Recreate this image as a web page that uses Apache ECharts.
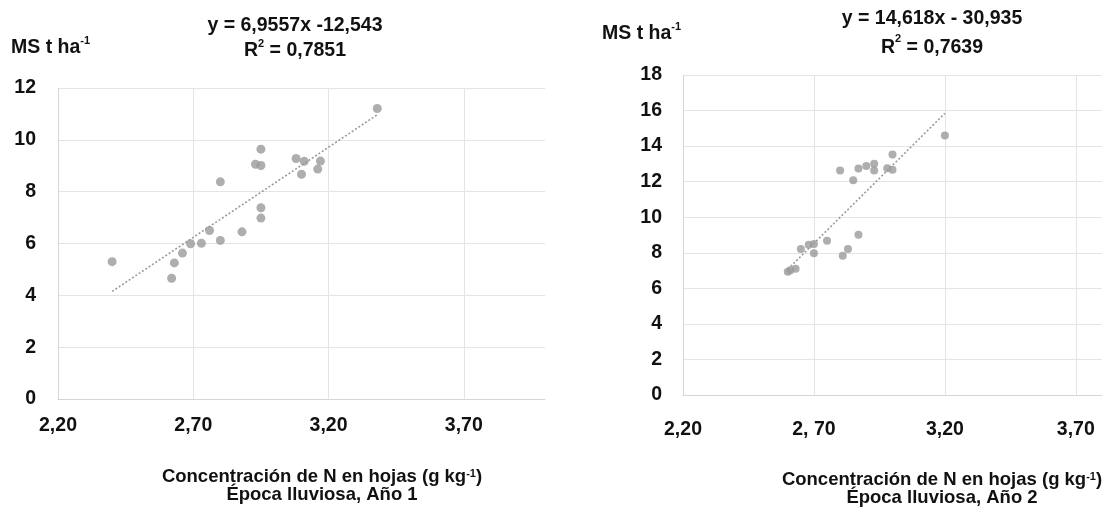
<!DOCTYPE html>
<html><head><meta charset="utf-8">
<script src="https://cdn.jsdelivr.net/npm/echarts@6/dist/echarts.min.js"></script>
<style>html,body{margin:0;padding:0;background:#fff}#c{width:1102px;height:516px}</style>
</head><body><div id="c"></div>
<script>
// ---- Data: Época lluviosa, Año 1 ----
const nLeaf1 = [2.40, 2.62, 2.63, 2.66, 2.69, 2.73, 2.76, 2.80, 2.80, 2.88, 2.93, 2.95, 2.95, 2.95, 2.95, 3.08, 3.11, 3.10, 3.17, 3.16, 3.38];
const ms1    = [5.30, 4.66, 5.25, 5.63, 5.99, 6.01, 6.50, 6.12, 8.38, 6.45, 9.06, 9.01, 9.64, 7.38, 6.98, 9.28, 9.17, 8.67, 9.18, 8.87, 11.21];
// ---- Data: Época lluviosa, Año 2 ----
const nLeaf2 = [2.60, 2.61, 2.63, 2.65, 2.68, 2.70, 2.70, 2.75, 2.80, 2.81, 2.83, 2.85, 2.87, 2.87, 2.90, 2.93, 2.93, 2.98, 3.00, 3.00, 3.20];
const ms2    = [6.93, 7.02, 7.10, 8.21, 8.45, 8.49, 7.98, 8.68, 12.63, 7.83, 8.21, 12.08, 12.74, 9.02, 12.88, 13.01, 12.63, 12.76, 13.53, 12.67, 14.59];
// ---- Linear trend coefficients [slope, intercept] ----
const trendCoef1 = [6.9557, -12.543];
const trendCoef2 = [14.618, -30.935];
// ---- Tick labels ----
const xTickValues = [2.20, 2.70, 3.20, 3.70];
const xTickLabels1 = ['2,20', '2,70', '3,20', '3,70'];
const xTickLabels2 = ['2,20', '2, 70', '3,20', '3,70'];
// ---- Texts ----
const eqText1 = ['y = 6,9557x -12,543', '0,7851'];
const eqText2 = ['y = 14,618x - 30,935', '0,7639'];
const xTitle = ['Concentración de N en hojas (g kg', '-1', ')'];
const seasonText = ['Época lluviosa, Año 1', 'Época lluviosa, Año 2'];

const FONT = 'Liberation Sans, Arial, sans-serif';
const dotColor = '#9a9a9a';

function pairs(xs, ys) { return xs.map((x, i) => [x, ys[i]]); }
function trend(xs, c) {
  const lo = Math.min(...xs), hi = Math.max(...xs);
  return [[lo, c[0] * lo + c[1]], [hi, c[0] * hi + c[1]]];
}
function xFmt(labels) {
  return function (v) {
    for (let i = 0; i < xTickValues.length; i++) if (Math.abs(v - xTickValues[i]) < 1e-6) return labels[i];
    return '';
  };
}
const rich = (fs, lh, slh) => ({
  b: { fontFamily: FONT, fontSize: fs, fontWeight: 'bold', color: '#111', lineHeight: lh },
  s: { fontFamily: FONT, fontSize: 11, fontWeight: 'bold', color: '#111', lineHeight: slh, verticalAlign: 'top' }
});

const gridLine = { show: true, lineStyle: { color: '#e4e4e4', width: 1 } };
const axisLineStyle = { show: true, lineStyle: { color: '#d6d6d6', width: 1 } };
const lblStyle = { fontFamily: FONT, fontSize: 19.5, fontWeight: 'bold', color: '#111' };

function xAxis(gi, max, labels, margin) {
  return {
    type: 'value', gridIndex: gi, min: 2.2, max: max, interval: 0.5,
    axisLine: axisLineStyle, axisTick: { show: false },
    splitLine: Object.assign({ showMaxLine: false }, gridLine),
    axisLabel: Object.assign({ margin: margin, showMaxLabel: false, formatter: xFmt(labels) }, lblStyle)
  };
}
function yAxis(gi, max, margin) {
  return {
    type: 'value', gridIndex: gi, min: 0, max: max, interval: 2,
    axisLine: axisLineStyle, axisTick: { show: false },
    splitLine: gridLine,
    axisLabel: Object.assign({ margin: margin, align: 'right' }, lblStyle)
  };
}

const option = {
  backgroundColor: '#fff',
  animation: false,
  grid: [
    { left: 58, top: 88, width: 487, height: 311 },
    { left: 683, top: 75, width: 419, height: 320 }
  ],
  xAxis: [xAxis(0, 4.0, xTickLabels1, 17), xAxis(1, 3.8, xTickLabels2, 25)],
  yAxis: [yAxis(0, 12, 22), yAxis(1, 18, 21)],
  title: [
    { text: '{b|' + eqText1[0] + '}\n{b|R}{s|2}{b| = ' + eqText1[1] + '}', left: 295, top: 13, textAlign: 'center', padding: 0,
      textStyle: { rich: rich(19.5, 25, 17) } },
    { text: '{b|' + eqText2[0] + '}\n{b|R}{s|2}{b| = ' + eqText2[1] + '}', left: 932, top: 4, textAlign: 'center', padding: 0,
      textStyle: { rich: rich(19.5, 29, 19) } },
    { text: '{b|MS t ha}{s|-1}', left: 11, top: 35, padding: 0, textStyle: { rich: rich(19.5, 25, 17) } },
    { text: '{b|MS t ha}{s|-1}', left: 602, top: 21, padding: 0, textStyle: { rich: rich(19.5, 25, 17) } },
    { text: '{b|' + xTitle[0] + '}{s|' + xTitle[1] + '}{b|' + xTitle[2] + '}\n{b|' + seasonText[0] + '}', left: 322, top: 468, textAlign: 'center', padding: 0,
      textStyle: { rich: rich(18.5, 18, 13) } },
    { text: '{b|' + xTitle[0] + '}{s|' + xTitle[1] + '}{b|' + xTitle[2] + '}\n{b|' + seasonText[1] + '}', left: 942, top: 471, textAlign: 'center', padding: 0,
      textStyle: { rich: rich(18.5, 18, 13) } }
  ],
  series: [
    { type: 'line', xAxisIndex: 0, yAxisIndex: 0, data: trend(nLeaf1, trendCoef1), symbol: 'none', z: 1,
      lineStyle: { color: '#9a9a9a', width: 1.6, type: [2, 2] } },
    { type: 'scatter', xAxisIndex: 0, yAxisIndex: 0, data: pairs(nLeaf1, ms1), symbolSize: 9, z: 2,
      itemStyle: { color: dotColor } },
    { type: 'line', xAxisIndex: 1, yAxisIndex: 1, data: trend(nLeaf2, trendCoef2), symbol: 'none', z: 1,
      lineStyle: { color: '#9a9a9a', width: 1.6, type: [2, 2] } },
    { type: 'scatter', xAxisIndex: 1, yAxisIndex: 1, data: pairs(nLeaf2, ms2), symbolSize: 8, z: 2,
      itemStyle: { color: dotColor } }
  ]
};
const chart = echarts.init(document.getElementById('c'), null, { renderer: 'canvas' });
chart.setOption(option);
</script>
</body></html>
